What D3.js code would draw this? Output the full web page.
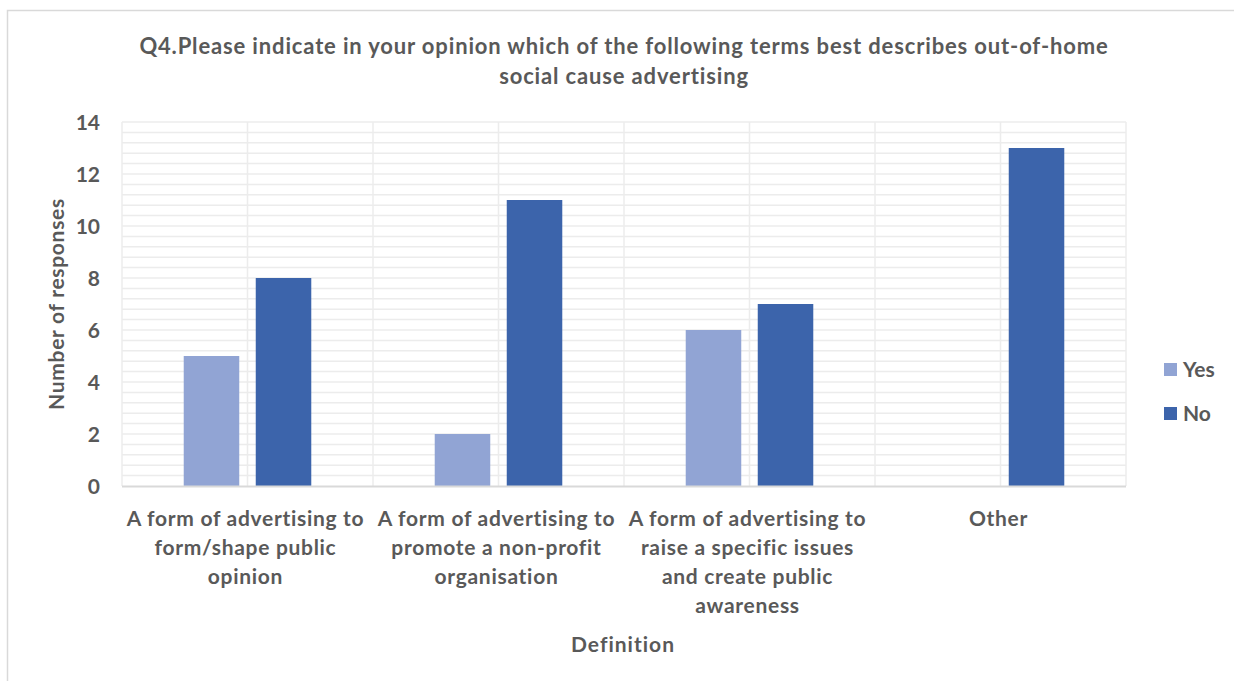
<!DOCTYPE html>
<html>
<head>
<meta charset="utf-8">
<script src="https://cdn.jsdelivr.net/npm/d3@7"></script>
<style>
  html, body { margin: 0; padding: 0; background: #fff; }
  svg { display: block; font-family: Lato, "Open Sans", sans-serif; font-weight: 700; }
</style>
</head>
<body>
<svg id="chart" width="1234" height="681"></svg>
<script>
// Survey responses per definition
const categories = [
  ["A form of advertising to", "form/shape public", "opinion"],
  ["A form of advertising to", "promote a non-profit", "organisation"],
  ["A form of advertising to", "raise a specific issues", "and create public", "awareness"],
  ["Other"]
];
const seriesNames = ["Yes", "No"];
const yesValues = [5, 2, 6, 0];
const noValues = [8, 11, 7, 13];
const yTicks = [0, 2, 4, 6, 8, 10, 12, 14];
const titleLines = [
  "Q4.Please indicate in your opinion which of the following terms best describes out-of-home",
  "social cause advertising"
];

const colors = { Yes: "#91A4D4", No: "#3C64AB" };
const textColor = "#595959";
const gridColor = "#ececec";

const svg = d3.select("#chart");
const W = 1234, H = 681;
const plot = { left: 122, right: 1126, top: 122, bottom: 486 };

// Chart-area frame
svg.append("path")
  .attr("d", `M7.5,${H} V10.5 H${W}`)
  .attr("fill", "none")
  .attr("stroke", "#d9d9d9")
  .attr("stroke-width", 1.5);

const catKeys = categories.map((c, i) => i);
const x0 = d3.scaleBand().domain(catKeys).range([plot.left, plot.right]).padding(0);
const x1 = d3.scaleBand().domain(seriesNames).range([0, x0.bandwidth()])
  .paddingInner(0.229).paddingOuter(0.857);
const y = d3.scaleLinear().domain([0, 14]).range([plot.bottom, plot.top]);

// Minor + major horizontal gridlines every 0.4
const gridVals = d3.range(0, 14.0001, 0.4).filter(v => v > 0.001);
svg.append("g").selectAll("line").data(gridVals).join("line")
  .attr("x1", plot.left).attr("x2", plot.right)
  .attr("y1", d => y(d)).attr("y2", d => y(d))
  .attr("stroke", gridColor).attr("stroke-width", 1.5);

// Vertical gridlines at category edges and centres
const vLines = [];
catKeys.forEach(k => { vLines.push(x0(k)); vLines.push(x0(k) + x0.bandwidth() / 2); });
vLines.push(plot.right);
svg.append("g").selectAll("line").data(vLines).join("line")
  .attr("x1", d => d).attr("x2", d => d)
  .attr("y1", plot.top).attr("y2", plot.bottom)
  .attr("stroke", gridColor).attr("stroke-width", 1.5);

// Bars
const rows = catKeys.map(k => ({ k, Yes: yesValues[k], No: noValues[k] }));
svg.append("g").selectAll("g").data(rows).join("g")
  .attr("transform", d => `translate(${x0(d.k)},0)`)
  .selectAll("rect")
  .data(d => seriesNames.map(s => ({ s, v: d[s] })).filter(e => e.v > 0))
  .join("rect")
  .attr("x", d => x1(d.s))
  .attr("width", x1.bandwidth())
  .attr("y", d => y(d.v))
  .attr("height", d => y(0) - y(d.v))
  .attr("fill", d => colors[d.s]);

// Category axis line
svg.append("line")
  .attr("x1", plot.left).attr("x2", plot.right)
  .attr("y1", plot.bottom + 0.5).attr("y2", plot.bottom + 0.5)
  .attr("stroke", "#d9d9d9").attr("stroke-width", 2);

// Y axis labels
const yAxis = d3.axisLeft(y).tickValues(yTicks).tickSize(0).tickPadding(0);
const yg = svg.append("g").attr("transform", `translate(100,0)`).call(yAxis);
yg.select(".domain").remove();
yg.selectAll("text")
  .attr("fill", textColor)
  .style("font-size", "21px")
  .style("font-family", "Lato, sans-serif")
  .style("font-weight", 700)
  .attr("dy", "0.36em");

// Category labels
const xg = svg.append("g");
catKeys.forEach(k => {
  const cx = x0(k) + x0.bandwidth() / 2 - 2;
  const t = xg.append("text")
    .attr("x", cx)
    .attr("y", 526)
    .attr("text-anchor", "middle")
    .attr("fill", textColor)
    .style("font-size", "21px")
    .style("letter-spacing", "0.7px");
  categories[k].forEach((line, i) => {
    t.append("tspan")
      .attr("x", cx)
      .attr("dy", i === 0 ? 0 : 29)
      .text(line);
  });
});

// Title
const title = svg.append("text")
  .attr("text-anchor", "middle")
  .attr("fill", textColor)
  .style("font-size", "22px")
  .style("letter-spacing", "0.85px");
titleLines.forEach((line, i) => {
  title.append("tspan")
    .attr("x", 624)
    .attr("y", 54 + i * 30)
    .text(line);
});

// Axis titles
svg.append("text")
  .attr("transform", "translate(64,304) rotate(-90)")
  .attr("text-anchor", "middle")
  .attr("fill", textColor)
  .style("font-size", "21px")
  .style("letter-spacing", "0.7px")
  .text("Number of responses");

svg.append("text")
  .attr("x", 623).attr("y", 652)
  .attr("text-anchor", "middle")
  .attr("fill", textColor)
  .style("font-size", "21px")
  .style("letter-spacing", "1px")
  .text("Definition");

// Legend
const legend = svg.append("g").attr("transform", "translate(1164,363)");
seriesNames.forEach((s, i) => {
  const g = legend.append("g").attr("transform", `translate(0,${i * 44})`);
  g.append("rect").attr("width", 13).attr("height", 13).attr("fill", colors[s]);
  g.append("text")
    .attr("x", 19).attr("y", 14)
    .attr("fill", textColor)
    .style("font-size", "21px")
    .text(s);
});
</script>
</body>
</html>
